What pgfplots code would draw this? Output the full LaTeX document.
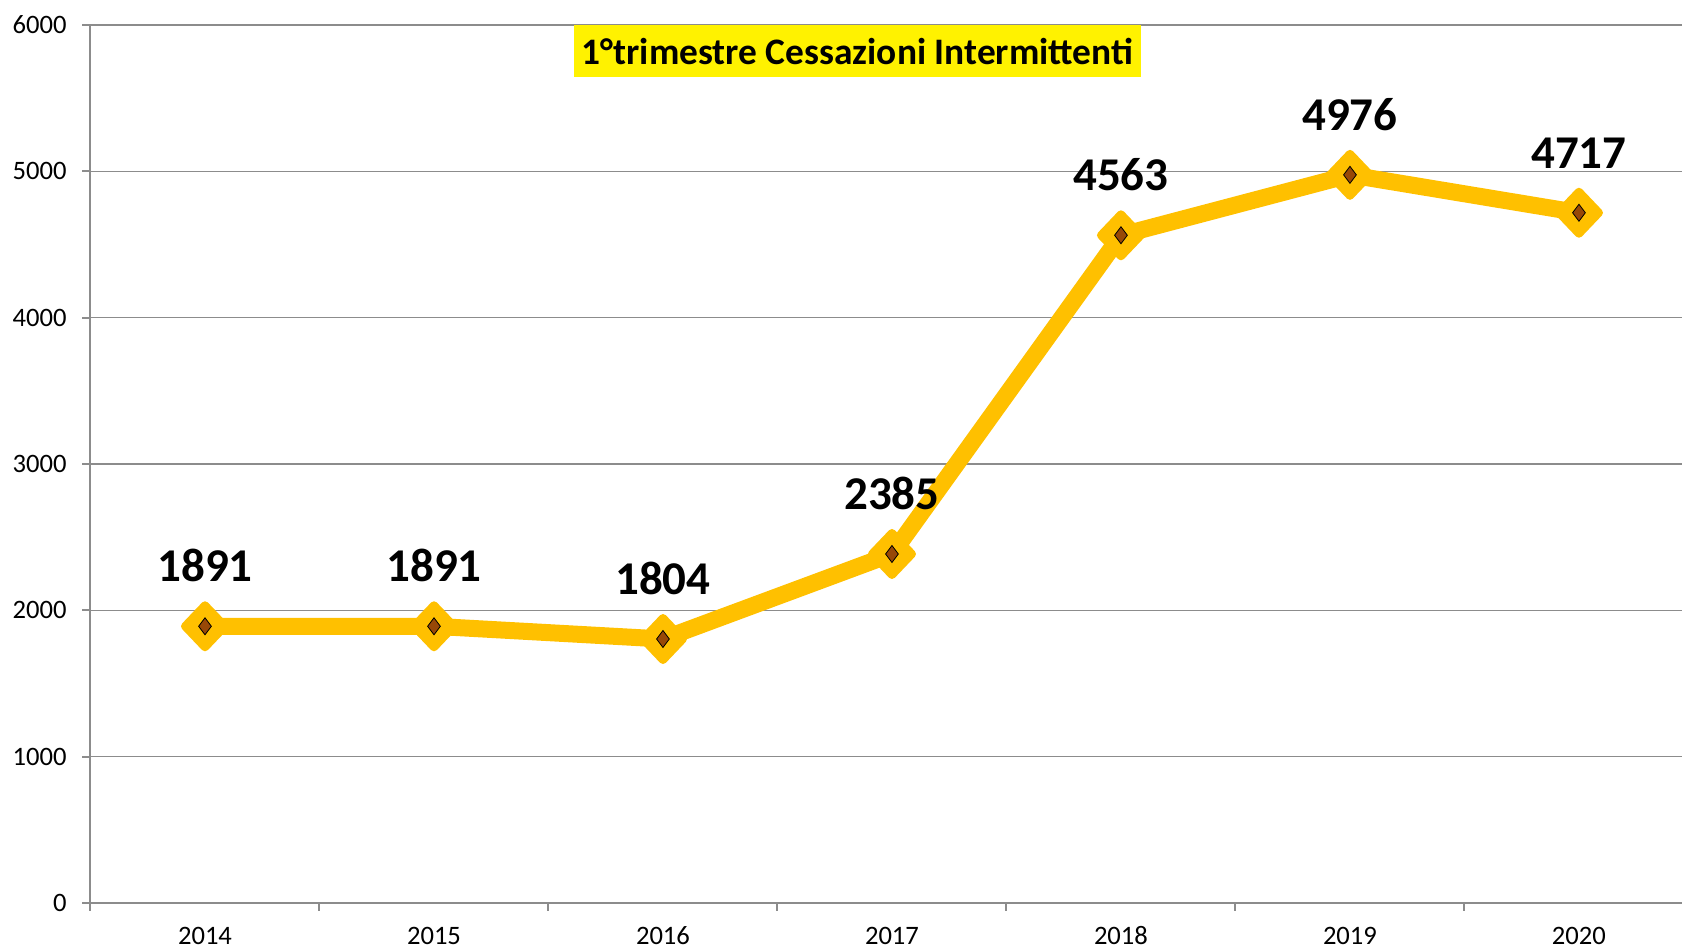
\documentclass[border=0pt]{standalone}
\usepackage{fontspec}
\setmainfont{Carlito}
\usepackage{pgfplots}
\pgfplotsset{compat=1.18}
\usetikzlibrary{calc}
\definecolor{lineyel}{HTML}{FFC000}
\definecolor{mkbrown}{HTML}{984807}
\definecolor{gridgray}{HTML}{8C8C8C}
\begin{document}
\begin{tikzpicture}
\begin{axis}[
  scale only axis, width=795.75pt, height=439pt,
  xmin=-0.5, xmax=6.45, ymin=0, ymax=6000,
  axis x line*=bottom, axis y line*=left,
  axis line style={gridgray, line width=1pt},
  ytick={0,1000,...,6000},
  ymajorgrids,
  major grid style={gridgray, line width=0.75pt},
  xtick={0,...,6},
  xticklabels={2014,2015,2016,2017,2018,2019,2020},
  minor xtick={-0.5,0.5,...,5.5},
  major x tick style={draw=none},
  minor x tick style={gridgray, line width=1pt},
  major y tick style={gridgray, line width=1pt},
  tick align=outside,
  major tick length=4pt, minor tick length=4pt,
  /pgf/number format/1000 sep={},
  /pgf/number format/assume math mode=true,
  tick label style={font=\fontsize{13.3}{15}\selectfont},
  yticklabel style={anchor=east, inner sep=0pt, xshift=-7.75pt},
  xticklabel style={anchor=base, inner sep=0pt, yshift=-17pt},
  clip=false,
]
\addplot[lineyel, line width=8.5pt, line join=round,
  mark=diamond*, mark size=10.5pt,
  mark options={solid, fill=lineyel, draw=lineyel, line width=4pt, line join=round, xscale=1.27}]
  coordinates {(0,1891) (1,1891) (2,1804) (3,2385) (4,4563) (5,4976) (6,4717)};
\addplot[only marks, mark=diamond*, mark size=4.25pt,
  mark options={fill=mkbrown, draw=none},
  point meta=explicit symbolic,
  nodes near coords,
  nodes near coords style={font=\fontsize{23.5}{26}\selectfont\bfseries, inner sep=0pt, anchor=south, yshift=22pt, text=black}]
  coordinates {(0,1891)[1891] (1,1891)[1891] (2,1804)[1804] (3,2385)[2385] (4,4563)[4563] (5,4976)[4976] (6,4717)[4717]};
\node[fill=yellow, font=\fontsize{18.7}{22}\selectfont\bfseries, minimum width=283.5pt, minimum height=26pt, inner sep=0pt, anchor=north] at (rel axis cs:0.482,1) {1°trimestre Cessazioni Intermittenti};
\end{axis}
\pgfresetboundingbox
\useasboundingbox ($(current axis.south west)+(-45.25pt,-22pt)$) rectangle ($(current axis.south west)+(795.75pt,451.5pt)$);
\end{tikzpicture}
\end{document}
